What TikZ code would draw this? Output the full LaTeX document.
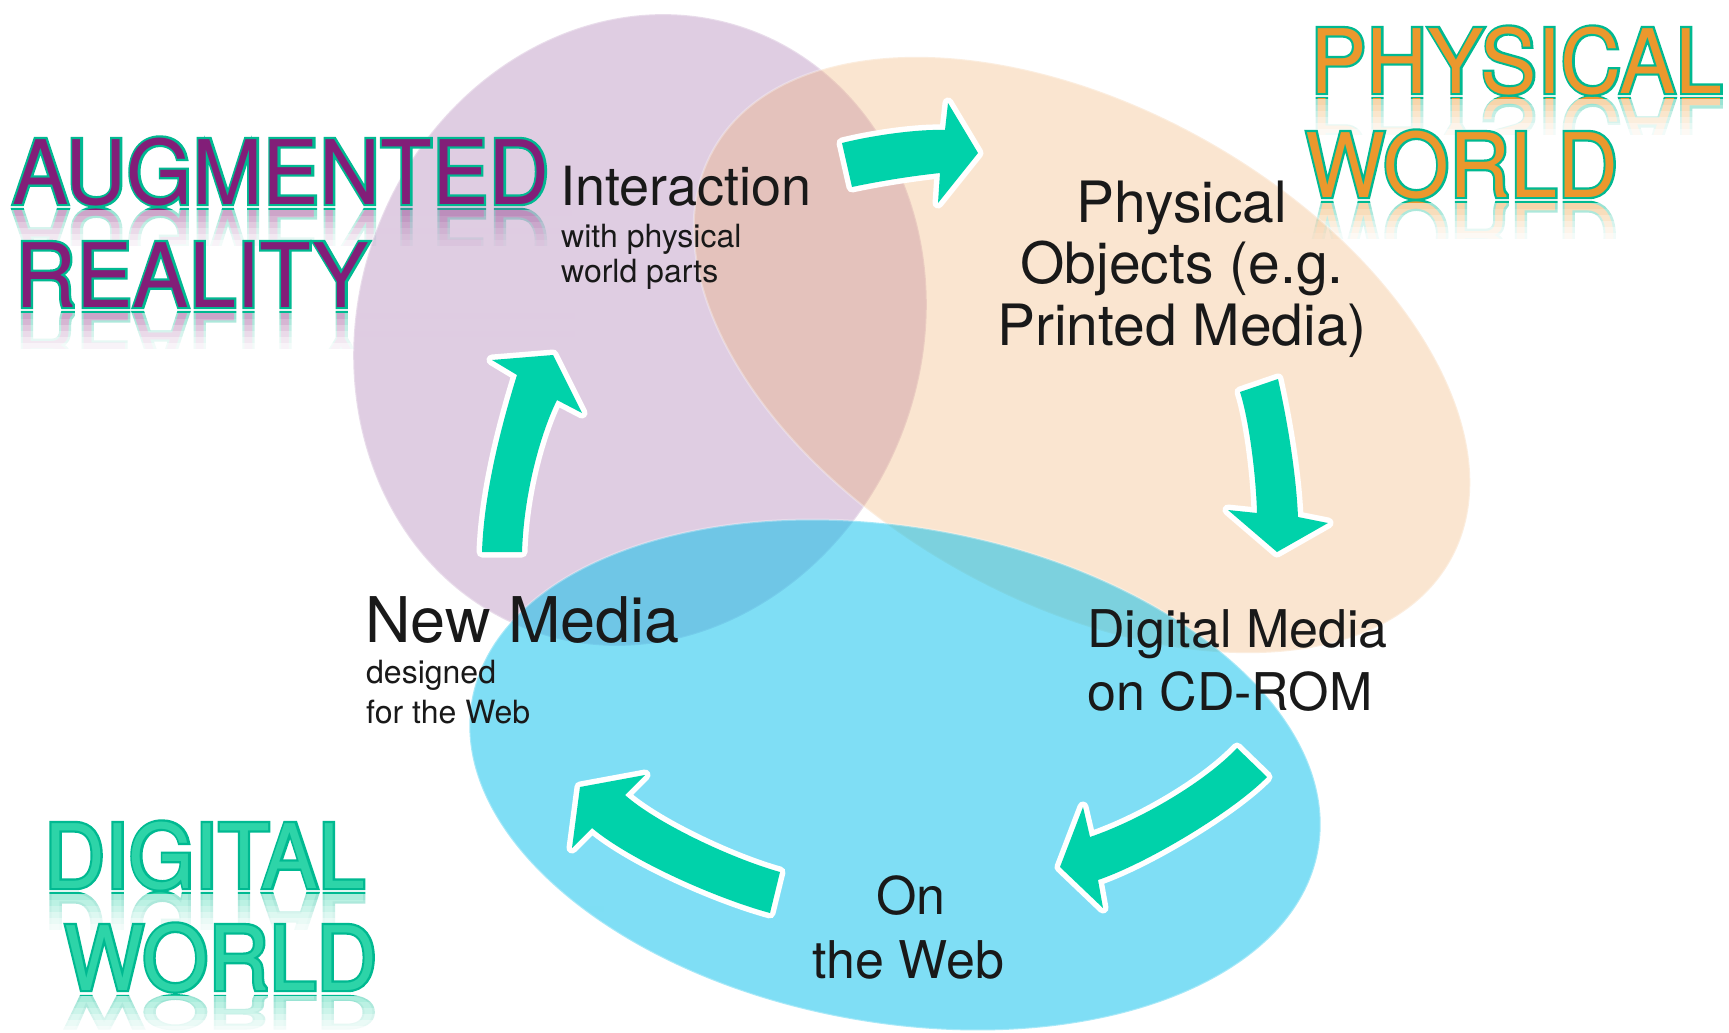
\documentclass[tikz,border=0pt]{standalone}
\usepackage{fontspec}
\usepackage{graphicx}
\setmainfont{TeX Gyre Heros}
\newfontfamily\titlefont{TeX Gyre Heros}[FakeStretch=0.95]
\newfontfamily\titleoutline{TeX Gyre Heros}[FakeStretch=0.95, FakeBold=5]
\definecolor{purpfill}{RGB}{150,90,160}
\definecolor{peachfill}{RGB}{240,170,100}
\definecolor{bluefill}{RGB}{0,190,235}
\definecolor{arrowgreen}{RGB}{0,210,170}
\definecolor{augfill}{RGB}{130,30,120}
\definecolor{physfill}{RGB}{235,152,45}
\definecolor{digfill}{RGB}{45,212,168}
\definecolor{titleline}{RGB}{0,185,145}
\definecolor{bodytext}{RGB}{25,25,25}
\newcommand\ttltext[2]{\fontsize{89}{89}\selectfont\rlap{\titleoutline\color{titleline}#1}{\titlefont\color{#2}#1}}
\newcommand\ttl[5]{\node[anchor=base west, inner sep=0pt] (#1) at (#2,-#3) {\ttltext{#4}{#5}};}
% name, x, baseline, text, colour, vertical squash
\newcommand\ttlrefl[6]{%
  \node[anchor=base west, inner sep=0pt] (#1) at (#2,-#3-6) {\scalebox{1}[-#6]{\ttltext{#4}{#5}}};
  \foreach \k/\o in {0/0.6,1/0.68,2/0.76,3/0.84,4/0.9,5/0.95}{\fill[white,opacity=\o] (#2-12,-#3-5.5-6*\k) rectangle (#2+560,-#3-12-6*\k);}
  \fill[white] (#2-12,-#3-41.5) rectangle (#2+560,-#3-85);}
\tikzset{
  arrowbody/.style={fill=arrowgreen, preaction={draw=white, line width=11pt, line join=round}},
  bigtxt/.style={inner sep=0pt, text=bodytext, font=\fontsize{#1}{#1}\selectfont},
  blob/.style={draw=white, draw opacity=0.3, line width=2pt},
}
\begin{document}
\begin{tikzpicture}[x=1pt,y=1pt]
\useasboundingbox (0,0) rectangle (1729,-1033);
% reflections of titles
\ttlrefl{rA}{12}{204}{AUGMENTED}{augfill}{1}
\ttlrefl{rR}{15}{307}{REALITY}{augfill}{1}
\ttlrefl{rP}{1310}{93}{PHYSICAL}{physfill}{1}
\ttlrefl{rW}{1305}{197}{WORLD}{physfill}{1}
\ttlrefl{rD}{44}{888}{DIGITAL}{digfill}{1}
\ttlrefl{rW2}{64}{990}{WORLD}{digfill}{0.5}
% ellipses
\fill[purpfill, fill opacity=0.3, rotate around={-20:(640,-330)}, blob] (640,-330) ellipse [x radius=282, y radius=320];
\fill[peachfill, fill opacity=0.3, rotate around={-29:(1082,-355)}, blob] (1082,-355) ellipse [x radius=422, y radius=248];
\fill[bluefill, fill opacity=0.5, rotate around={-10:(895,-775)}, blob] (895,-775) ellipse [x radius=430, y radius=248];
% arrows
\path[arrowbody] (842,-143) .. controls (870,-136) and (915,-129) .. (945,-130) -- (948,-103) -- (978,-153) -- (938,-203) -- (940,-173) .. controls (912,-176) and (880,-181) .. (852,-187) -- cycle;
\path[arrowbody] (1240,-392) -- (1278,-379) .. controls (1286,-415) and (1296,-470) .. (1298,-517) -- (1328,-523) -- (1277,-552) -- (1228,-510) -- (1257,-513) .. controls (1256,-475) and (1249,-420) .. (1240,-392) -- cycle;
\path[arrowbody] (1237,-748) -- (1267,-777) .. controls (1235,-810) and (1150,-862) .. (1098,-880) -- (1103,-908) -- (1060,-867) -- (1083,-807) -- (1090,-837) .. controls (1140,-820) and (1205,-782) .. (1237,-748) -- cycle;
\path[arrowbody] (780,-872) -- (770,-913) .. controls (715,-898) and (630,-860) .. (592,-828) -- (572,-848) -- (580,-787) -- (645,-775) -- (625,-795) .. controls (655,-822) and (730,-858) .. (780,-872) -- cycle;
\path[arrowbody] (482,-552) .. controls (484,-490) and (503,-420) .. (517,-375) -- (492,-360) -- (553,-355) -- (582,-413) -- (557,-400) .. controls (542,-430) and (524,-490) .. (522,-552) -- cycle;
% body texts
\node[bigtxt=54, anchor=base west] (inter) at (560,-205) {Interaction};
\node[bigtxt=32, anchor=base west] (inter2) at (561,-247) {with physical};
\node[bigtxt=32, anchor=base west] (inter3) at (561,-282) {world parts};
\node[bigtxt=57, anchor=base] (phys1) at (1182,-222) {Physical};
\node[bigtxt=57, anchor=base] (phys2) at (1182,-283) {Objects (e.g.};
\node[bigtxt=57, anchor=base] (phys3) at (1182,-345) {Printed Media)};
\node[bigtxt=52, anchor=base west] (dig1) at (1087,-647) {Digital Media};
\node[bigtxt=52, anchor=base west] (dig2) at (1087,-710) {on CD-ROM};
\node[bigtxt=52, anchor=base] (web1) at (911,-914) {On};
\node[bigtxt=52, anchor=base] (web2) at (908,-978) {the Web};
\node[bigtxt=63, anchor=base west] (new1) at (365,-642) {New Media};
\node[bigtxt=32, anchor=base west] (new2) at (366,-683) {designed};
\node[bigtxt=32, anchor=base west] (new3) at (366,-723) {for the Web};
% titles
\ttl{tA}{12}{204}{AUGMENTED}{augfill}
\ttl{tR}{15}{307}{REALITY}{augfill}
\ttl{tP}{1310}{93}{PHYSICAL}{physfill}
\ttl{tW}{1305}{197}{WORLD}{physfill}
\ttl{tD}{44}{888}{DIGITAL}{digfill}
\ttl{tW2}{64}{990}{WORLD}{digfill}
\end{tikzpicture}
\end{document}
